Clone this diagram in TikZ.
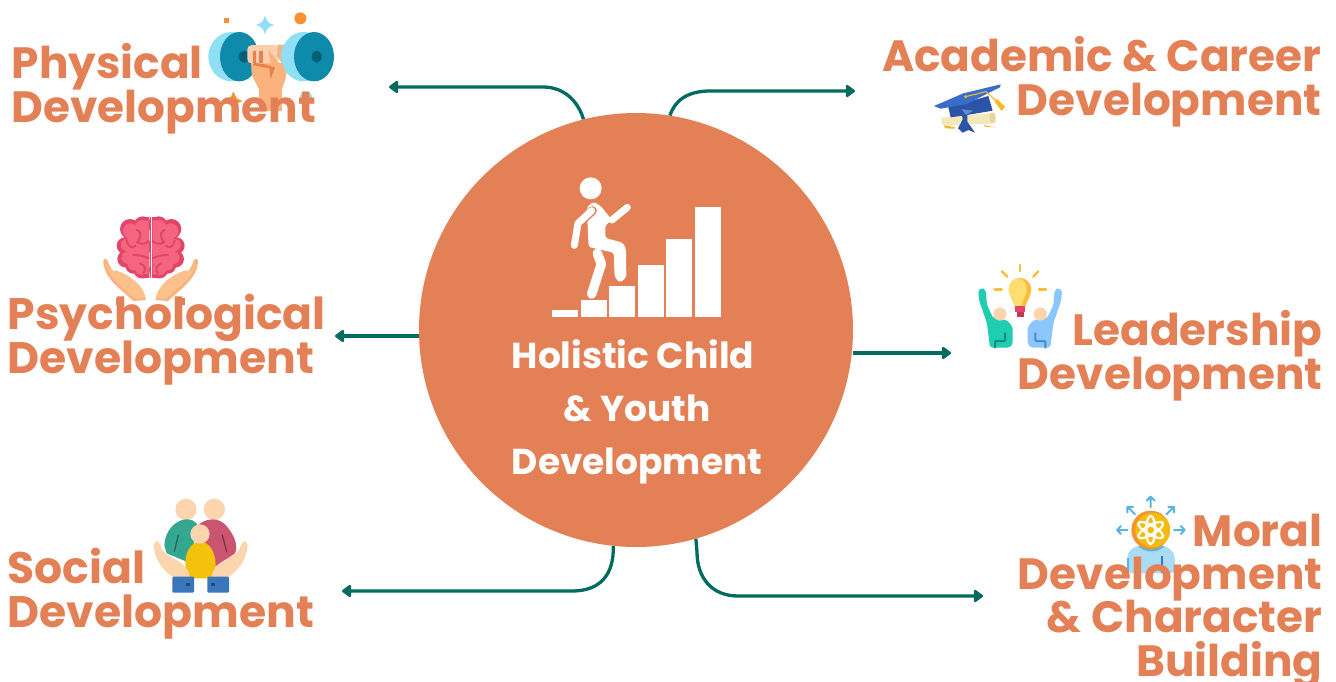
\documentclass[tikz,border=0pt]{standalone}
\usepackage{fontspec}
\setmainfont{Poppins}
\usetikzlibrary{arrows.meta}
\newcommand{\tightls}{\setlength{\lineskiplimit}{-100pt}\setlength{\lineskip}{0pt}}
\definecolor{coral}{HTML}{E48055}
\definecolor{tealline}{HTML}{006B5E}
\definecolor{peach}{HTML}{FBB27C}
\definecolor{peachl}{HTML}{FBCFAE}
\definecolor{skin}{HTML}{FBD5AE}
\definecolor{handc}{HTML}{FCC08C}
\definecolor{dumbl}{HTML}{8FE0F5}
\definecolor{dumbd}{HTML}{0E8BAA}
\definecolor{dumbh}{HTML}{045E75}
\definecolor{orng}{HTML}{F7932E}
\definecolor{brainO}{HTML}{E4436A}
\definecolor{brainI}{HTML}{F4667F}
\definecolor{capA}{HTML}{3A6CCB}
\definecolor{capB}{HTML}{2B54A8}
\definecolor{gold}{HTML}{F5B921}
\definecolor{paper}{HTML}{F4E7B8}
\definecolor{bulb}{HTML}{FFDD6E}
\definecolor{bulbd}{HTML}{FBBE3C}
\definecolor{ltA}{HTML}{1FCDB0}
\definecolor{ltAd}{HTML}{19897E}
\definecolor{ltB}{HTML}{8CC6FF}
\definecolor{ltBd}{HTML}{4A8CC6}
\definecolor{sTeal}{HTML}{33A78F}
\definecolor{sRed}{HTML}{CB5470}
\definecolor{sYel}{HTML}{F4C20D}
\definecolor{sBlue}{HTML}{3B76BB}
\definecolor{mBlue}{HTML}{5AB4E0}
\definecolor{mBody}{HTML}{A8DDF5}
\tikzset{
  lab/.style={inner sep=0pt,text=coral,font=\fontsize{43.8}{43.3}\selectfont\bfseries\tightls},
  labw/.style={inner sep=0pt,text=coral,font=\fontsize{44.1}{43.3}\selectfont\bfseries\tightls},
  hubstyle/.style={circle,fill=coral,draw=none,minimum size=434pt,inner sep=0pt},
  hubtext/.style={inner sep=0pt,text=white,align=center,font=\fontsize{36}{53}\selectfont\bfseries\tightls},
  conn/.style={draw=tealline,line width=3.3pt,line join=round,-{Triangle[length=10pt,width=14pt,round]}},
  z/.style={shift={(#1)},scale=1/3},
  ray/.style={line width=2.4pt,line cap=round},
  limb/.style={line width=7pt,line cap=round,line join=round,draw=white},
}
\begin{document}
\begin{tikzpicture}[x=1pt,y=-1pt]
\useasboundingbox (0,0) rectangle (1336,681);
% ---- hub
\node[hubstyle] (hub) at (636,330) {};
\foreach \a/\b/\c in {552/578/310,581/607/300,609/635/286,638/664/265,666/692/239,695/721/207}
  \fill[white] (\a,\c) rectangle (\b,316.7);
\begin{scope}[z={540,170}]
  \fill[white] (152,55) circle (33);
  \fill[white,rounded corners=2pt] (140,112) -- (160,95) -- (182,108) -- (216,150) -- (196,166) -- (196,204) -- (248,218) -- (258,236) -- (259,322) -- (240,338) -- (224,322) -- (221,248) -- (146,231) -- cycle;
  \draw[limb] (216,150) -- (262,112);
  \draw[white,line width=9.5pt,line cap=round,line join=round] (172,250) -- (184,282) -- (155,372);
  \draw[coral,line width=9pt,line cap=round,line join=round] (157,122) -- (116,160) -- (105,225);
  \draw[white,line width=7pt,line cap=round,line join=round] (155,122) -- (114,160) -- (103,226);
\end{scope}
\node[hubtext,anchor=base] (hubt) at (637,474.5) {Holistic Child\hspace*{8pt}\\\& Youth\\Development};
% ---- physical icon
\begin{scope}[z={200,0}]
  \fill[orng] (72,54) rectangle (87,69);
  \fill[orng] (301,55) circle (18);
  \fill[dumbl] (195,46) .. controls (200,65) and (205,70) .. (223,75) .. controls (205,80) and (200,85) .. (195,103) .. controls (190,85) and (185,80) .. (167,75) .. controls (185,70) and (190,65) .. (195,46) -- cycle;
  \fill[orng] (100,275) -- (110,295) -- (127,303) -- (108,312) -- (100,325) -- (90,312) -- (75,303) -- (90,295) -- cycle;
  \fill[dumbl] (318,292) circle (18);
  \fill[dumbl] (95,170) ellipse (70 and 74);
  \fill[dumbd] (118,170) ellipse (58 and 74);
  \fill[dumbh] (133,170) ellipse (17 and 18);
  \fill[peach] (178,240) rectangle (245,332);
  \fill[peach,rounded corners=2pt] (153,180) -- (258,190) -- (260,225) -- (245,270) -- (178,270) -- (155,225) -- cycle;
  \fill[peachl,rounded corners=4pt] (142,136) -- (235,134) -- (235,190) -- (142,190) -- cycle;
  \fill[peach] (205,150) -- (258,215) -- (245,262) -- (212,190) -- cycle;
  \fill[peachl!70!brown] (232,134) -- (262,134) -- (262,215) -- (232,170) -- cycle;
  \fill[coral!90!orange] (160,154) rectangle (168,190);
  \fill[coral!90!orange] (178,154) rectangle (188,190);
  \fill[coral!90!orange] (160,188) -- (200,194) -- (225,203) -- (212,236) -- (208,205) -- (160,196) -- cycle;
  \fill[dumbl] (310,170) ellipse (66 and 74);
  \fill[dumbd] (342,170) ellipse (60 and 74);
  \fill[dumbh] (350,170) ellipse (15 and 18);
\end{scope}
% ---- cap icon
\begin{scope}[z={920,70}]
  \fill[gold] (72,165) -- (105,172) -- (105,176) -- (75,175) -- cycle;
  \fill[gold] (190,165) -- (225,172) -- (195,170) -- cycle;
  \fill[paper,rounded corners=2pt] (63,143) -- (225,128) -- (228,160) -- (66,167) -- cycle;
  \fill[paper!80!brown] (218,143) ellipse (9 and 16);
  \fill[capB] (85,112) -- (205,78) -- (218,122) -- (135,136) -- (92,142) -- cycle;
  \fill[capA] (42,108) -- (130,70) -- (242,43) -- (240,52) -- (140,102) -- (62,116) -- cycle;
  \fill[capB] (122,112) -- (142,112) -- (142,155) -- (165,188) -- (145,180) -- (128,188) -- (114,175) -- (128,148) -- cycle;
  \fill[capA!80!white] (125,118) -- (160,122) -- (138,135) -- cycle;
  \draw[gold,line width=1.1pt] (137,80) -- (198,65) -- (228,92);
  \fill[gold] (137,80) circle (5);
  \fill[gold] (222,92) -- (232,88) -- (255,110) -- (245,123) -- cycle;
\end{scope}
% ---- brain icon
\begin{scope}[z={90,205}]
  \foreach \m in {1,-1}{
   \begin{scope}[shift={(182,0)},xscale=\m,shift={(-182,0)}]
    \fill[brainO] (158,60) circle (26) (120,72) circle (30) (105,122) circle (25)
      (108,162) circle (26) (155,195) circle (25) (130,182) circle (24) (140,125) circle (42);
    \fill[brainO] (178,36) -- (160,36) -- (120,60) -- (110,120) -- (130,190) -- (160,220) -- (178,218) -- cycle;
    \fill[brainI] (156,66) circle (20) (122,78) circle (23) (110,120) circle (18)
      (114,158) circle (19) (155,190) circle (20) (132,178) circle (18) (142,125) circle (36);
    \fill[brainI] (176,46) -- (150,46) -- (125,70) -- (120,125) -- (135,185) -- (160,208) -- (176,208) -- cycle;
    \draw[brainO,line width=2pt,line cap=round] (110,106) .. controls (115,130) and (130,130) .. (136,122);
    \draw[brainO,line width=2pt,line cap=round] (140,75) .. controls (160,85) and (150,100) .. (142,112) .. controls (155,120) and (170,115) .. (176,108);
    \draw[brainO,line width=2pt,line cap=round] (176,160) .. controls (155,150) and (140,150) .. (130,150);
    \draw[brainO,line width=2pt,line cap=round] (150,175) .. controls (165,180) and (170,195) .. (160,205);
    \fill[peach] (40,165) .. controls (42,160) and (48,160) .. (52,165) .. controls (60,190) and (70,200) .. (78,208) .. controls (120,225) and (160,250) .. (168,285) -- (130,288) .. controls (90,250) and (40,220) .. (40,165) -- cycle;
    \fill[handc] (45,165) .. controls (52,190) and (65,205) .. (78,196) .. controls (120,210) and (160,240) .. (167,280) -- (138,282) .. controls (100,250) and (50,215) .. (45,165) -- cycle;
    \fill[coral] (78,278) rectangle (100,300);
   \end{scope}}
  \fill[white] (179,36) rectangle (185,220);
  \fill[brainO] (181,36) rectangle (183,220);
\end{scope}
% ---- leadership icon
\begin{scope}[z={965,255}]
  \draw[bulbd,ray] (165,30) -- (165,48);
  \draw[bulbd,ray] (111,49) -- (127,65);
  \draw[bulbd,ray] (220,49) -- (205,65);
  \draw[bulbd,ray] (89,104) -- (110,104);
  \draw[bulbd,ray] (222,104) -- (243,104);
  \fill[bulbd] (165,103) circle (34);
  \fill[bulbd] (135,120) -- (196,120) -- (180,155) -- (150,155) -- cycle;
  \fill[bulb] (158,104) ellipse (27 and 34);
  \fill[bulb] (133,115) -- (180,115) -- (170,155) -- (150,155) -- cycle;
  \fill[brainO] (150,153) rectangle (181,172);
  \fill[black!15!brainO] (155,172) rectangle (176,186);
  \fill[ltA,rounded corners=2pt] (40,105) -- (50,98) -- (62,105) -- (66,150) -- (85,190) -- (125,195) -- (143,215) -- (143,268) -- (133,278) -- (75,278) -- (66,205) -- (42,135) -- cycle;
  \fill[skin] (105,177) circle (20);
  \draw[ltAd,line width=2pt,line cap=round,line join=round,rounded corners=1pt] (120,235) -- (120,258) -- (90,258) -- (90,278);
  \fill[ltB,rounded corners=2pt] (291,105) -- (281,98) -- (269,105) -- (265,150) -- (246,190) -- (206,195) -- (188,215) -- (188,268) -- (198,278) -- (256,278) -- (265,205) -- (289,135) -- cycle;
  \fill[skin] (226,177) circle (20);
  \draw[ltBd,line width=2pt,line cap=round,line join=round,rounded corners=1pt] (211,235) -- (211,258) -- (241,258) -- (241,278);
\end{scope}
% ---- social icon
\begin{scope}[z={145,490}]
  \fill[skin] (123,58) circle (32);
  \fill[skin] (208,58) circle (32);
  \fill[sRed] (155,110) .. controls (175,85) and (225,75) .. (250,115) .. controls (270,140) and (280,170) .. (270,190) -- (210,230) -- (150,200) -- cycle;
  \fill[sTeal] (58,165) .. controls (60,120) and (95,85) .. (130,88) .. controls (150,90) and (165,105) .. (160,125) -- (125,215) -- (65,190) -- cycle;
  \draw[sTeal!60!black,line width=1.2pt,line cap=round] (100,135) -- (88,185);
  \draw[sRed!60!black,line width=1.2pt,line cap=round] (232,135) -- (245,185);
  \fill[sYel] (165,155) .. controls (195,155) and (212,190) .. (212,225) .. controls (212,245) and (202,262) .. (197,265) -- (135,265) .. controls (125,245) and (118,225) .. (122,205) .. controls (127,175) and (145,155) .. (165,155) -- cycle;
  \fill[skin] (165,132) circle (29);
  \foreach \m in {1,-1}{
   \begin{scope}[shift={(167,0)},xscale=\m,shift={(-167,0)}]
    \fill[skin] (26,165) .. controls (28,150) and (42,150) .. (46,165) .. controls (50,185) and (65,195) .. (85,205) .. controls (105,215) and (130,230) .. (135,262) -- (84,262) .. controls (55,240) and (30,215) .. (26,165) -- cycle;
    \fill[sBlue,rounded corners=1pt] (82,260) rectangle (147,308);
    \fill[black!35!sBlue] (124,280) rectangle (136,287);
   \end{scope}}
\end{scope}
% ---- moral icon
\begin{scope}[z={1105,490}]
  \fill[mBody,rounded corners=5pt] (65,250) -- (68,185) -- (100,165) -- (178,165) -- (208,188) -- (212,250) -- cycle;
  \fill[mBlue] (100,168) .. controls (120,190) and (160,190) .. (178,168) -- cycle;
  \fill[mBlue] (65,205) rectangle (72,250);
  \fill[sBlue] (168,198) rectangle (174,250);
  \fill[orng] (137,120) circle (58);
  \fill[sYel!90!orange] (143,120) circle (52);
  \begin{scope}[shift={(137,120)}]
    \foreach \r in {0,60,120}
      \draw[white,line width=2.2pt,rotate=\r] (0,0) ellipse (14 and 42);
    \fill[white] (0,0) circle (14);
    \fill[sYel!90!orange] (0,0) circle (10);
  \end{scope}
  \foreach \ang/\ix/\iy in {90/137/52,135/90/73,45/184/73,180/68/120,0/207/120}{
    \begin{scope}[shift={(\ix,\iy)},rotate=\ang]
      \draw[mBlue,line width=2pt,line cap=round,line join=round] (0,0) -- (32,0) (20,-12) -- (32,0) -- (20,12);
    \end{scope}}
\end{scope}
% ---- labels
\node[lab,align=left,anchor=base west] (lphys) at (11.5,122) {Physical\\Development};
\node[labw,align=left,anchor=base west] (lpsy) at (7.5,373) {Psychological\\Development};
\node[labw,align=left,anchor=base west] (lsoc) at (7.5,627) {Social\\Development};
\node[lab,align=right,anchor=base east] (lacad) at (1321.5,115) {Academic \& Career\\Development};
\node[lab,align=right,anchor=base east] (llead) at (1322.5,389) {Leadership\\Development};
\node[lab,align=right,anchor=base east] (lmor) at (1322.5,676) {Moral\\Development\\\& Character\\Building};
% ---- connectors
\coordinate (eul) at (389,87);
\coordinate (eur) at (855,91);
\coordinate (el) at (335,336);
\coordinate (er) at (951,353);
\coordinate (ell) at (342,591);
\coordinate (elr) at (983,596);
\draw[conn] (hub.104) .. controls (578,101) and (564,87) .. (543,87) -- (eul);
\draw[conn] (hub.81) .. controls (675,100) and (688,91) .. (710,91) -- (eur);
\draw[conn] (el -| hub.west) -- (el);
\draw[conn] (er -| hub.east) -- (er);
\draw[conn] (hub.264) .. controls (614,575) and (600,591) .. (572,591) -- (ell);
\draw[conn] (hub.286.3) -- (697,552) .. controls (697,578) and (712,596) .. (738,596) -- (elr);
\end{tikzpicture}
\end{document}
